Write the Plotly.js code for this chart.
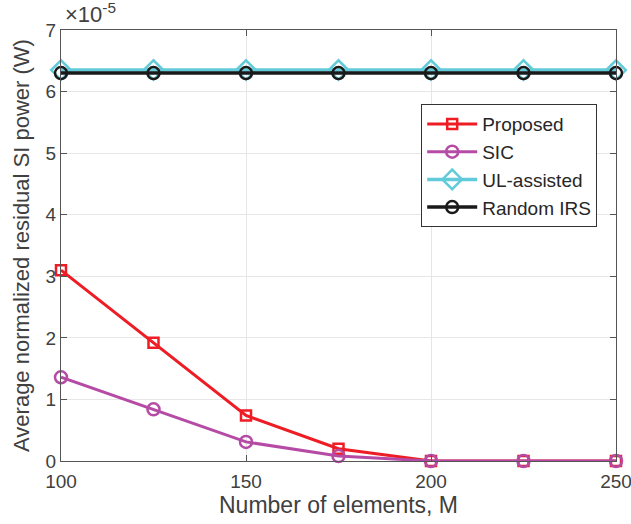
<!DOCTYPE html>
<html>
<head>
<meta charset="utf-8">
<script src="https://cdn.plot.ly/plotly-3.0.1.min.js"></script>
<style>html,body{margin:0;padding:0;background:#fff;}#chart{width:631px;height:524px;}</style>
</head>
<body>
<div id="chart"></div>
<script>
// Number of elements M
const elements = [100, 125, 150, 175, 200, 225, 250];
// Average normalized residual SI power, in units of 1e-5 W
const proposed = [3.10, 1.92, 0.74, 0.20, 0.00, 0.00, 0.00];
const sic = [1.36, 0.84, 0.31, 0.08, 0.00, 0.00, 0.00];
const ulAssisted = [6.35, 6.35, 6.35, 6.35, 6.35, 6.35, 6.35];
const randomIRS = [6.30, 6.30, 6.30, 6.30, 6.30, 6.30, 6.30];
const seriesNames = ['Proposed', 'SIC', 'UL-assisted', 'Random IRS'];
const yTicks = [0, 1, 2, 3, 4, 5, 6, 7];
const xTicks = [100, 150, 200, 250];

const FONT = 'Liberation Sans, Arial, sans-serif';
function tr(y, name, color, symbol, size, lw) {
  return {
    x: elements, y: y, name: name, type: 'scatter', mode: 'lines+markers',
    cliponaxis: false,
    line: {color: color, width: lw},
    marker: {symbol: symbol, size: size, color: color, line: {color: color, width: 2.5}}
  };
}
const data = [
  tr(proposed, seriesNames[0], '#EE1C25', 'square-open', 10, 3),
  tr(sic, seriesNames[1], '#B54BA5', 'circle-open', 12, 3),
  tr(ulAssisted, seriesNames[2], '#62CBDA', 'diamond-open', 15, 3.5),
  tr(randomIRS, seriesNames[3], '#1A1A1A', 'circle-open', 12, 3.5)
];
const axisCommon = {
  showline: true, mirror: 'ticks', linecolor: '#555', linewidth: 1,
  ticks: 'inside', ticklen: 6, tickcolor: '#555',
  showgrid: true, gridcolor: '#E6E6E6', zeroline: false,
  ticklabeloverflow: 'allow',
  tickfont: {family: FONT, size: 19, color: '#404040'}
};
const layout = {
  width: 631, height: 524,
  margin: {l: 61, r: 15, t: 30, b: 63},
  paper_bgcolor: '#fff', plot_bgcolor: '#fff',
  showlegend: true,
  xaxis: Object.assign({}, axisCommon, {
    range: [100, 250], tickvals: xTicks, ticktext: xTicks.map(String),
    ticklabelstandoff: 3,
    title: {text: 'Number of elements, M', font: {family: FONT, size: 23, color: '#404040'}, standoff: 4}
  }),
  yaxis: Object.assign({}, axisCommon, {
    range: [0, 7], tickvals: yTicks, ticktext: yTicks.map(String),
    title: {text: 'Average normalized residual SI power (W)', font: {family: FONT, size: 22, color: '#404040'}, standoff: 9}
  }),
  legend: {
    x: 0.649, y: 0.828, xanchor: 'left', yanchor: 'top',
    bgcolor: '#fff', bordercolor: '#333', borderwidth: 1,
    font: {family: FONT, size: 19, color: '#262626'},
    tracegroupgap: 0, itemwidth: 50
  },
  annotations: [{
    xref: 'paper', yref: 'paper', x: 0, y: 1, xanchor: 'left', yanchor: 'bottom',
    xshift: 2, yshift: 1, showarrow: false,
    text: '×10<sup>-5</sup>', font: {family: FONT, size: 22, color: '#404040'}
  }]
};
Plotly.newPlot('chart', data, layout, {displayModeBar: false, staticPlot: true});
</script>
</body>
</html>
